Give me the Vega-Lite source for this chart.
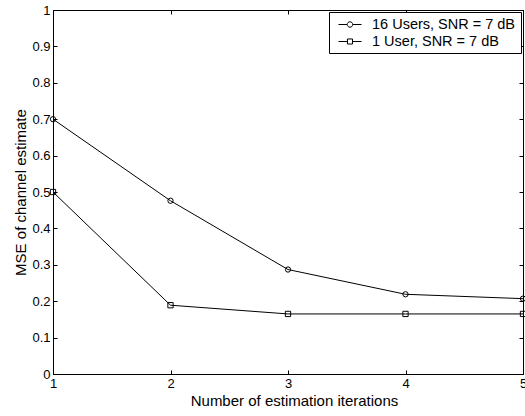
{
  "$schema": "https://vega.github.io/schema/vega-lite/v6.json",
  "autosize": "none",
  "width": 470,
  "height": 364,
  "padding": {"left": 53, "top": 10, "right": 2, "bottom": 42},
  "background": "white",
  "config": {
    "font": "Liberation Sans",
    "view": {"stroke": "black", "strokeWidth": 1},
    "axis": {"grid": false, "domainColor": "black", "tickColor": "black", "labelColor": "black", "titleColor": "black", "labelFontSize": 13, "titleFontSize": 15, "titleFontWeight": "normal", "tickSize": -4, "labelFont": "Liberation Sans", "titleFont": "Liberation Sans"}
  },
  "data": {
    "values": [
      {"iter": 1, "mse": 0.70, "series": "16 Users, SNR = 7 dB"},
      {"iter": 2, "mse": 0.476, "series": "16 Users, SNR = 7 dB"},
      {"iter": 3, "mse": 0.287, "series": "16 Users, SNR = 7 dB"},
      {"iter": 4, "mse": 0.219, "series": "16 Users, SNR = 7 dB"},
      {"iter": 5, "mse": 0.207, "series": "16 Users, SNR = 7 dB"},
      {"iter": 1, "mse": 0.50, "series": "1 User, SNR = 7 dB"},
      {"iter": 2, "mse": 0.189, "series": "1 User, SNR = 7 dB"},
      {"iter": 3, "mse": 0.165, "series": "1 User, SNR = 7 dB"},
      {"iter": 4, "mse": 0.165, "series": "1 User, SNR = 7 dB"},
      {"iter": 5, "mse": 0.165, "series": "1 User, SNR = 7 dB"}
    ]
  },
  "layer": [
    {
      "mark": {"type": "line", "color": "black", "strokeWidth": 1},
      "encoding": {
        "x": {"field": "iter", "type": "quantitative", "scale": {"domain": [1, 5], "nice": false, "zero": false},
              "axis": {"orient": "bottom", "title": "Number of estimation iterations", "values": [1, 2, 3, 4, 5], "format": "d", "labelPadding": 7, "titlePadding": 3, "labelFlush": false, "titleX": 241}},
        "y": {"field": "mse", "type": "quantitative", "scale": {"domain": [0, 1], "nice": false},
              "axis": {"orient": "left", "title": "MSE of channel estimate", "values": [0, 0.1, 0.2, 0.3, 0.4, 0.5, 0.6, 0.7, 0.8, 0.9, 1], "format": "~g", "labelPadding": 7, "titlePadding": 3, "labelFlush": false}},
        "detail": {"field": "series"}
      }
    },
    {
      "mark": {"type": "point", "filled": false, "color": "black", "strokeWidth": 1, "size": 28, "opacity": 1},
      "encoding": {
        "x": {"field": "iter", "type": "quantitative",
              "axis": {"orient": "top", "labels": false, "title": null, "values": [1, 2, 3, 4, 5]}},
        "y": {"field": "mse", "type": "quantitative",
              "axis": {"orient": "right", "labels": false, "title": null, "values": [0, 0.1, 0.2, 0.3, 0.4, 0.5, 0.6, 0.7, 0.8, 0.9, 1]}},
        "shape": {"field": "series", "type": "nominal",
                  "scale": {"domain": ["16 Users, SNR = 7 dB", "1 User, SNR = 7 dB"], "range": ["circle", "square"]},
                  "legend": null}
      }
    },
    {
      "transform": [{"filter": "datum.iter < 0"}],
      "mark": {"type": "point", "filled": false, "color": "black", "strokeWidth": 1, "opacity": 1},
      "encoding": {
        "shape": {"field": "series", "type": "nominal",
                  "scale": {"domain": ["16 Users, SNR = 7 dB", "1 User, SNR = 7 dB"],
                            "range": ["M-0.43,0H0.82M1.6,0H2.86M0.82,0A0.39,0.39,0,1,1,1.6,0A0.39,0.39,0,1,1,0.82,0", "M-0.43,0H0.85M1.57,0H2.86M0.85,-0.36H1.57V0.36H0.85Z"]},
                  "legend": {"title": null, "orient": "top-right", "offset": 2, "strokeColor": "black", "fillColor": "white", "padding": 5, "labelFontSize": 14.5, "labelColor": "black", "labelFont": "Liberation Sans", "symbolSize": 196, "symbolStrokeWidth": 1, "symbolStrokeColor": "black", "symbolFillColor": "transparent", "symbolOpacity": 1, "rowPadding": 2, "labelOffset": 23}}
      }
    }
  ],
  "resolve": {"axis": {"x": "independent", "y": "independent"}, "scale": {"shape": "independent"}}
}
